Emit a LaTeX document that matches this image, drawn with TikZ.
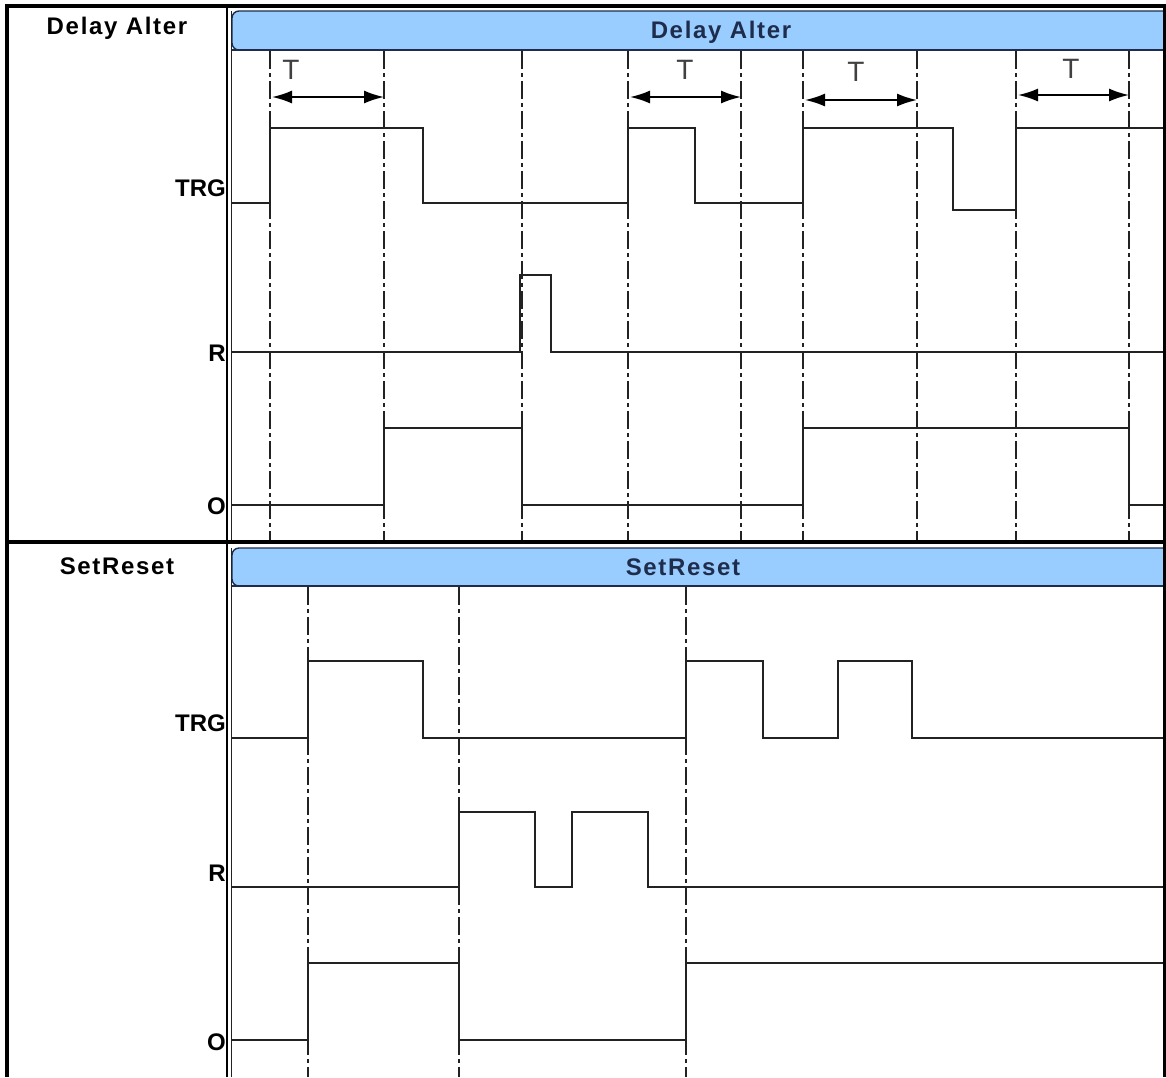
\documentclass[tikz,border=0pt]{standalone}
\usepackage{fontspec}
\setmainfont{Liberation Sans}
\newfontfamily\spacedfont[LetterSpace=7]{Liberation Sans}
\usetikzlibrary{arrows.meta}
\definecolor{hdr}{HTML}{99CCFF}
\definecolor{hdrline}{HTML}{1F2D4D}
\definecolor{sig}{HTML}{222222}
\begin{document}
\begin{tikzpicture}[x=1pt,y=-1pt,
  sigline/.style={draw=sig,line width=2.2pt,line join=miter},
  guide/.style={draw=sig,line width=2.2pt,dash pattern=on 18pt off 4pt on 4pt off 4pt},
  tarrow/.style={draw=black,line width=1.8pt,{Latex[length=20pt,width=13pt]}-{Latex[length=20pt,width=13pt]}},
  tlabel/.style={font=\fontsize{28}{28}\selectfont,text=black!75,inner sep=0pt},
  rowlabel/.style={font=\fontsize{24}{24}\selectfont\bfseries,anchor=base east,inner sep=0pt},
  celltitle/.style={font=\fontsize{24}{24}\spacedfont\bfseries,inner sep=0pt,anchor=base},
  hdrtitle/.style={font=\fontsize{24}{24}\spacedfont\bfseries,text=hdrline,inner sep=0pt,anchor=base},
  hdrbar/.style={fill=hdr,draw=hdrline,line width=1.4pt,rounded corners=7pt},
  tableline/.style={draw=black,line width=3.2pt},
  panelline/.style={draw=sig,line width=1.2pt}
]
\useasboundingbox (0,0) rectangle (1166,1077);
\fill[white] (0,0) rectangle (1166,1077);

% ---------- header bars ----------
\begin{scope}
  \clip (0,0) rectangle (1163,1077);
  \path[hdrbar] (232,11) rectangle (1180,50);
  \draw[hdrline,line width=2.4pt] (232,50) -- (1163,50);
  \path[hdrbar] (232,548) rectangle (1180,586);
  \draw[hdrline,line width=2.4pt] (232,586) -- (1163,586);
\end{scope}
\node[hdrtitle] (h1) at (721,38) {Delay Alter};
\node[hdrtitle] (h2) at (683,575) {SetReset};

% ---------- panel left borders ----------
\draw[panelline] (231.5,11) -- (231.5,541);
\draw[panelline] (231.5,548) -- (231.5,1077);

% ---------- table ----------
\draw[tableline] (7,1077) -- (7,6) -- (1164.5,6) -- (1164.5,1077);
\draw[tableline] (7,542) -- (1166,542);
\draw[draw=black,line width=2.8pt] (227,6) -- (227,1077);

\node[celltitle] (c1) at (117,34) {Delay Alter};
\node[celltitle] (c2) at (117,574) {SetReset};

% ---------- top panel: guides ----------
\foreach \gx in {270,384,522,628,741,803,917,1016,1129}
  \draw[guide] (\gx,51) -- (\gx,540);

% T arrows
\coordinate (a1l) at (272,97);  \coordinate (a1r) at (384,97);
\coordinate (a2l) at (630,97);  \coordinate (a2r) at (741,97);
\coordinate (a3l) at (805,100); \coordinate (a3r) at (917,100);
\coordinate (a4l) at (1018,95); \coordinate (a4r) at (1129,95);
\draw[tarrow] (a1l) -- (a1r);
\draw[tarrow] (a2l) -- (a2r);
\draw[tarrow] (a3l) -- (a3r);
\draw[tarrow] (a4l) -- (a4r);
\node[tlabel] (t1) at (291,70) {T};
\node[tlabel] (t2) at (685,70) {T};
\node[tlabel] (t3) at (856,72) {T};
\node[tlabel] (t4) at (1071,69) {T};

% labels
\node[rowlabel] (l1) at (226,196) {TRG};
\node[rowlabel] (l2) at (226,361) {R};
\node[rowlabel] (l3) at (226,514) {O};

% traces
\draw[sigline] (232,203) -| (270,128) -| (423,203) -| (628,128) -| (695,203)
  -| (803,128) -| (953,210) -| (1016,128) -- (1163,128);
\draw[sigline] (232,352) -| (520,275) -| (551,352) -- (1163,352);
\draw[sigline] (232,505) -| (384,428) -| (522,505) -| (803,428) -| (1129,505) -- (1163,505);

% ---------- bottom panel ----------
\foreach \gx in {308,459,686}
  \draw[guide] (\gx,587) -- (\gx,1077);

\node[rowlabel] (l4) at (226,731) {TRG};
\node[rowlabel] (l5) at (226,881) {R};
\node[rowlabel] (l6) at (226,1050) {O};

\draw[sigline] (232,738) -| (308,661) -| (423,738) -| (686,661) -| (763,738)
  -| (838,661) -| (912,738) -- (1163,738);
\draw[sigline] (232,887) -| (459,812) -| (535,887) -| (572,812) -| (648,887) -- (1163,887);
\draw[sigline] (232,1040) -| (308,963) -| (459,1040) -| (686,963) -- (1163,963);
\end{tikzpicture}
\end{document}
